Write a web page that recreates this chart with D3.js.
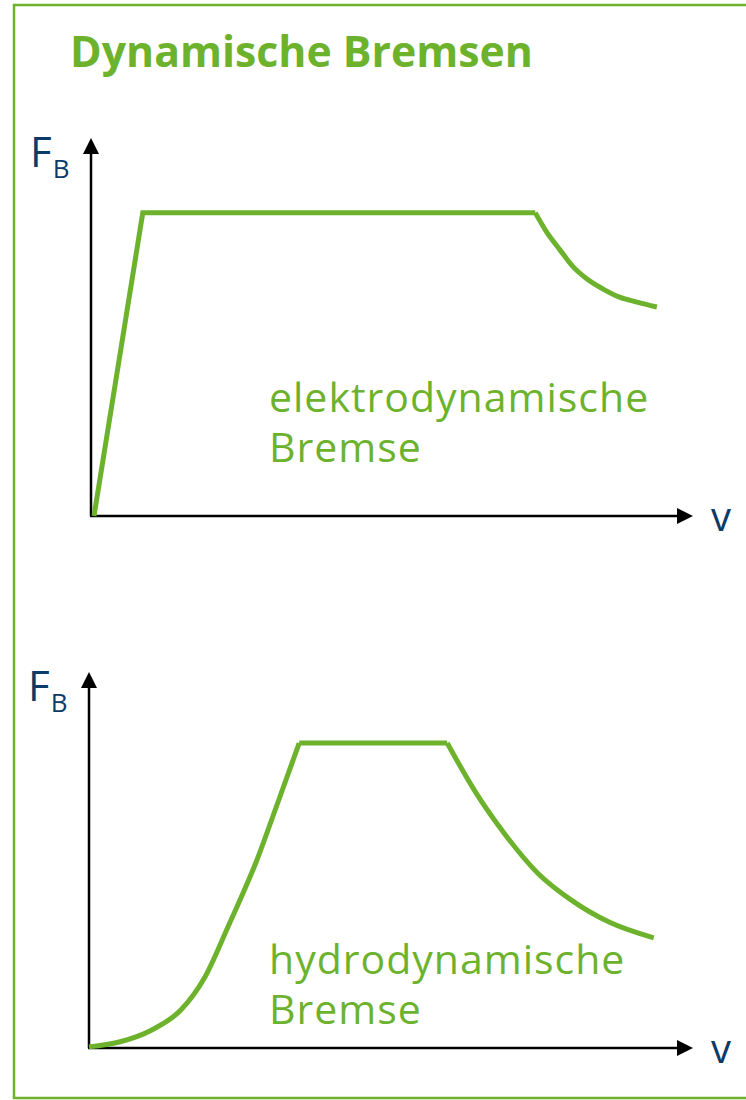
<!DOCTYPE html>
<html>
<head>
<meta charset="utf-8">
<script src="https://cdn.jsdelivr.net/npm/d3@7"></script>
<style>
  html, body { margin: 0; padding: 0; background: #fff; }
  svg { display: block; font-family: "Open Sans", sans-serif; }
</style>
</head>
<body>
<svg id="chart" width="746" height="1100"></svg>
<script>
"use strict";

// chart texts
var title = "Dynamische Bremsen",
  yLabel = "F",
  ySub = "B",
  xLabel = "v",
  labelsElektro = ["elektrodynamische", "Bremse"],
  labelsHydro = ["hydrodynamische", "Bremse"];

// elektrodynamische Bremse: v (0..100), F_B (0..100)
var elektroRise = [[0.5, 0], [8.6, 80.2], [73.8, 80.2]];
var elektroFall = [[73.8, 80.2], [75.7, 75.1], [77.9, 70.4], [80.1, 65.9], [82.4, 62.7], [85.0, 60.1], [87.8, 57.9], [90.7, 56.6], [94.0, 55.3]];

// hydrodynamische Bremse
var hydroRise = [[0, 0.3], [5.0, 1.6], [10.4, 4.8], [15.2, 10.1], [19.2, 18.9], [23.0, 32.2], [27.8, 50.0], [31.0, 64.1], [34.8, 81.1]];
var hydroFlat = [[34.8, 81.1], [59.3, 81.1]];
var hydroFall = [[59.3, 81.1], [64.1, 67.8], [68.7, 57.2], [74.3, 46.5], [79.8, 39.4], [86.1, 33.5], [93.5, 29.3]];

var green = "#6db22d",
  navy = "#0b3b68";

var svg = d3.select("#chart");

// frame
svg.append("path")
  .attr("d", "M746,5 H14 V1098 H746")
  .attr("fill", "none")
  .attr("stroke", green)
  .attr("stroke-width", 2.5);

svg.append("text")
  .attr("x", 70)
  .attr("y", 67)
  .attr("fill", green)
  .attr("font-size", 43)
  .attr("font-weight", 700)
  .attr("textLength", 463)
  .attr("lengthAdjust", "spacingAndGlyphs")
  .text(title);

function drawPanel(opts){
  var g = svg.append("g"),
    x = d3.scaleLinear().domain([0, 100]).range([opts.x0, opts.x1]),
    y = d3.scaleLinear().domain([0, 100]).range([opts.y0, opts.y1]),
    line = d3.line().x(function(d){ return x(d[0]); }).y(function(d){ return y(d[1]); });

  // axes with arrow heads
  g.append("line")
    .attr("x1", x(0)).attr("y1", y(0))
    .attr("x2", x(0)).attr("y2", y(100) + 14)
    .attr("stroke", "#000").attr("stroke-width", 2.5);
  g.append("path")
    .attr("d", "M" + x(0) + "," + y(100) + " l-8,16 h16 z")
    .attr("fill", "#000");

  g.append("line")
    .attr("x1", x(0) - 1).attr("y1", y(0))
    .attr("x2", x(100) - 14).attr("y2", y(0))
    .attr("stroke", "#000").attr("stroke-width", 2.5);
  g.append("path")
    .attr("d", "M" + x(100) + "," + y(0) + " l-16,-8 v16 z")
    .attr("fill", "#000");

  // axis labels
  var yl = g.append("text")
    .attr("x", x(0) - 61)
    .attr("y", y(100) + 29)
    .attr("fill", navy)
    .attr("font-size", 42);
  yl.append("tspan").text(yLabel);
  yl.append("tspan").attr("font-size", 26).attr("dy", 11).attr("dx", 1).text(ySub);

  g.append("text")
    .attr("x", x(100) + 18)
    .attr("y", y(0) + 15)
    .attr("fill", navy)
    .attr("font-size", 40)
    .text(xLabel);

  // curves
  opts.pieces.forEach(function(p){
    g.append("path")
      .datum(p.data)
      .attr("d", line.curve(p.curve))
      .attr("fill", "none")
      .attr("stroke", green)
      .attr("stroke-width", 5)
      .attr("stroke-linejoin", "miter");
  });

  // curve label
  var lt = g.append("text")
    .attr("fill", green)
    .attr("font-size", 41)
    .attr("letter-spacing", 1);
  opts.labels.forEach(function(t, i){
    lt.append("tspan")
      .attr("x", opts.lx)
      .attr("y", opts.ly + i * 50)
      .text(t);
  });
}

drawPanel({
  x0: 91, x1: 693, y0: 516, y1: 138,
  pieces: [
    {data: elektroRise, curve: d3.curveLinear},
    {data: elektroFall, curve: d3.curveMonotoneX}
  ],
  labels: labelsElektro, lx: 269, ly: 412
});

drawPanel({
  x0: 89, x1: 693, y0: 1048, y1: 672,
  pieces: [
    {data: hydroRise, curve: d3.curveMonotoneX},
    {data: hydroFlat, curve: d3.curveLinear},
    {data: hydroFall, curve: d3.curveMonotoneX}
  ],
  labels: labelsHydro, lx: 269, ly: 974
});
</script>
</body>
</html>
